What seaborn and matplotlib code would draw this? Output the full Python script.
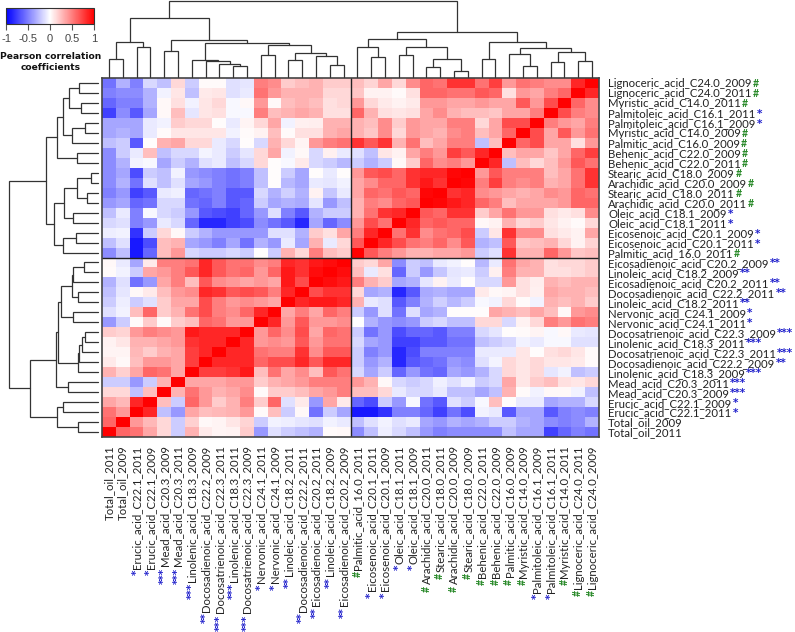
import numpy as np
import matplotlib
matplotlib.use("Agg")
import matplotlib.pyplot as plt
import seaborn as sns

row_labels = ["Lignoceric_acid_C24.0_2009", "Lignoceric_acid_C24.0_2011", "Myristic_acid_C14.0_2011",
              "Palmitoleic_acid_C16.1_2011", "Palmitoleic_acid_C16.1_2009", "Myristic_acid_C14.0_2009",
              "Palmitic_acid_C16.0_2009", "Behenic_acid_C22.0_2009", "Behenic_acid_C22.0_2011",
              "Stearic_acid_C18.0_2009", "Arachidic_acid_C20.0_2009", "Stearic_acid_C18.0_2011",
              "Arachidic_acid_C20.0_2011", "Oleic_acid_C18.1_2009", "Oleic_acid_C18.1_2011",
              "Eicosenoic_acid_C20.1_2009", "Eicosenoic_acid_C20.1_2011", "Palmitic_acid_16.0_2011",
              "Eicosadienoic_acid_C20.2_2009", "Linoleic_acid_C18.2_2009", "Eicosadienoic_acid_C20.2_2011",
              "Docosadienoic_acid_C22.2_2011", "Linoleic_acid_C18.2_2011", "Nervonic_acid_C24.1_2009",
              "Nervonic_acid_C24.1_2011", "Docosatrienoic_acid_C22.3_2009", "Linolenic_acid_C18.3_2011",
              "Docosatrienoic_acid_C22.3_2011", "Docosadienoic_acid_C22.2_2009", "Linolenic_acid_C18.3_2009",
              "Mead_acid_C20.3_2011", "Mead_acid_C20.3_2009", "Erucic_acid_C22.1_2009",
              "Erucic_acid_C22.1_2011", "Total_oil_2009", "Total_oil_2011"]
row_marks = ["#", "#", "#", "*", "*", "#", "#", "#", "#", "#", "#", "#", "#", "*", "*", "*", "*", "#",
             "**", "**", "**", "**", "**", "*", "*", "***", "***", "***", "**", "***", "***", "***", "*", "*", "", ""]

# Upper-left triangle of the symmetric matrix, as drawn: row i holds columns 0 .. 35-i
row_00 = [-.55,-.3,-.5,-.15,-.25,.15,-.2,.02,.02,-.12,-.1,.5,.45,.2,.25,.3,.2,.2,.25,.17,.35,.15,.45,.6,.55,.8,.8,.55,.75,.4,.55,.5,.45,.45,.85,1]
row_01 = [-.5,-.45,-.45,-.3,-.05,.1,-.25,.08,.1,-.12,-.08,.55,.4,.3,.3,.3,.15,.15,.22,.05,.05,.02,.12,.6,.6,.55,.55,.65,.6,.12,.4,.35,.5,.6,1]
row_02 = [-.6,-.5,-.5,-.3,.03,.12,-.05,.1,.15,-.03,.03,.4,.03,.25,.3,.25,.12,.15,.4,.15,.08,.05,.08,.4,.4,.35,.35,.4,.35,.35,.65,.4,.7,1]
row_03 = [-.75,-.45,-.65,-.35,.03,.25,-.1,.1,.12,-.03,-.03,.5,.25,.3,.35,.3,.12,.12,.6,.3,.12,.1,.12,.35,.45,.3,.25,.25,.22,.35,.35,.5,1]
row_04 = [-.35,-.35,-.35,-.08,-.05,.2,.15,.15,.01,-.08,.04,.15,.35,-.05,.06,.07,.3,.3,.3,.25,.45,.2,.4,.35,.35,.5,.5,.15,.35,.7,.7,1]
row_05 = [-.35,-.3,-.35,-.08,.02,.1,.1,.1,.1,-.05,.02,.05,.25,.02,.12,.12,.3,.35,.3,.22,.45,.15,.4,.35,.3,.45,.5,.25,.35,.6,1]
row_06 = [-.25,-.2,-.65,.01,.3,.35,.15,.15,-.08,-.15,.01,-.15,.3,.15,.04,.4,.5,.55,.8,.65,.8,.3,.55,.25,.35,.5,.5,-.25,.25,1]
row_07 = [-.45,-.2,-.08,.25,-.25,-.15,-.15,-.04,-.08,-.2,-.1,.15,.35,-.05,.03,-.15,.06,-.08,-.12,-.25,.1,.05,.35,.5,.4,.75,.65,.85,1]
row_08 = [-.45,-.3,-.05,-.03,-.35,-.2,-.3,-.12,-.08,-.25,-.15,.15,.01,-.03,.08,-.15,-.2,-.28,-.2,-.3,-.2,.03,.2,.6,.45,.5,.4,1]
row_09 = [-.45,-.35,-.7,-.2,-.25,-.05,-.4,-.45,-.5,-.55,-.5,-.25,.01,-.2,-.35,.01,-.08,.01,.4,.65,.7,.6,.8,.85,.85,.97,1]
row_10 = [-.45,-.3,-.55,-.12,-.25,-.12,-.35,-.4,-.5,-.55,-.5,-.25,.01,-.28,-.35,-.08,-.1,-.05,.35,.45,.6,.6,.8,.9,.8,1]
row_11 = [-.5,-.4,-.75,-.65,-.08,-.06,-.6,-.55,-.5,-.65,-.65,-.15,-.3,-.18,-.3,.05,-.22,-.08,.35,.6,.55,.65,.6,.97,1]
row_12 = [-.4,-.35,-.6,-.55,-.15,-.15,-.55,-.6,-.5,-.65,-.6,-.2,-.35,-.3,-.33,-.1,-.4,-.25,.3,.5,.45,.6,.65,1]
row_13 = [-.25,-.08,-.5,-.03,-.15,-.2,-.4,-.65,-.7,-.75,-.6,-.4,-.12,-.5,-.65,-.3,-.2,-.2,.3,.55,.8,.85,1]
row_14 = [-.15,-.12,-.5,-.4,-.08,-.15,-.6,-.85,-.85,-.75,-.7,-.45,-.55,-.65,-.85,-.35,-.6,-.45,.4,.7,.55,1]
row_15 = [-.07,-.05,-.8,-.2,.15,.03,-.2,-.3,-.4,-.4,-.4,-.4,-.12,-.12,-.3,.2,.12,.35,.5,.85,1]
row_16 = [-.25,-.12,-.9,-.7,.25,.3,-.35,-.4,-.5,-.35,-.55,-.3,-.4,-.08,-.35,.3,-.08,.15,.65,1]
row_17 = [-.45,-.25,-.9,-.6,.25,.4,-.15,-.2,-.2,-.15,-.2,.0,-.2,.3,.15,.5,.25,.2,1]
row_18 = [.03,-.08,-.35,.08,.5,.5,.55,.85,.65,.55,.55,.45,.5,.85,.8,.9,.95,1]
row_19 = [.02,-.05,-.2,.35,.4,.5,.65,.85,.65,.55,.6,.4,.6,.9,.8,.95,1]
row_20 = [-.3,-.12,-.55,-.4,.35,.5,.25,.65,.45,.4,.35,.4,.35,.9,.7,1]
row_21 = [-.25,-.1,.03,.08,.25,.4,.45,.85,.8,.65,.7,.65,.5,.85,1]
row_22 = [-.2,-.07,-.2,-.12,.2,.35,.35,.7,.5,.4,.45,.4,.35,1]
row_23 = [-.12,-.05,.25,.6,.2,.3,.55,.7,.5,.45,.6,.85,1]
row_24 = [-.4,-.2,.02,.2,.02,.2,.25,.6,.55,.4,.4,1]
row_25 = [.2,.17,.4,.5,.45,.4,.9,.85,.85,.85,1]
row_26 = [.05,.1,.3,.3,.35,.4,.8,.85,.85,1]
row_27 = [.04,.04,.28,.2,.3,.35,.75,.85,1]
row_28 = [.08,.03,.25,.4,.4,.35,.75,1]
row_29 = [.3,.18,.35,.6,.55,.35,1]
row_30 = [-.2,-.2,-.4,-.2,.3,1]
row_31 = [.15,.15,-.25,.25,1]
row_32 = [.35,.28,.85,1]
row_33 = [.55,.4,1]
row_34 = [.6,1]
row_35 = [1]
corr_rows = [row_00, row_01, row_02, row_03, row_04, row_05, row_06, row_07, row_08, row_09, row_10, row_11,
             row_12, row_13, row_14, row_15, row_16, row_17, row_18, row_19, row_20, row_21, row_22, row_23,
             row_24, row_25, row_26, row_27, row_28, row_29, row_30, row_31, row_32, row_33, row_34, row_35]

# Dendrogram merges: (height, left, right); integers are leaf positions
top_tree = (76,
    (59, (35, (18, 0, 1), (30, 2, 3)),
         (37, (26, 4, 5),
              (34, (17, 6, (16, 7, (13, 8, (11, 9, 10)))),
                   (32, (22, 11, 12), (24, (17, 13, 14), (21, 15, (12, 16, 17))))))),
    (45, (38, (30, 18, (20, 19, 20)),
              (30, (22, 21, 22), (18, (10, 23, 24), (6, 25, 26)))),
         (35, (18, 27, 28),
              (29, (23, 29, (11, 30, 31)), (25, (15, 32, 33), (16, 34, 35))))))
left_tree = (89,
    (52, (41, (35, (29, (19, 0, 1), (17, 2, 3)), (26, (13, 4, 5), 6)), (21, 7, 8)),
         (44, (34, (21, (7, 9, 10), (11, 11, 12)), (25, 13, 14)), (35, (22, 15, 16), 17))),
    (68, (42, (40, (37, (26, (25, (14, 18, 19), 20), (20, 21, 22)), (25, 23, 24)),
                   (20, (19, (16, (13, 25, 26), 27), 28), 29)),
              (30, 30, 31)),
         (41, (35, 32, 33), (20, 34, 35))))

W, H = 795, 632
HX0, HX1, HY0, HY1 = 102, 599, 78, 437


def px_axes(fig, x0, y0, x1, y1):
    return fig.add_axes([x0 / W, 1 - y1 / H, (x1 - x0) / W, (y1 - y0) / H])


n = len(corr_rows)
matrix = np.zeros((n, n))
for r, vals in enumerate(corr_rows):
    for c, v in enumerate(vals):
        matrix[r, c] = v
        matrix[n - 1 - c, n - 1 - r] = v

sns.set_theme(style="white")
plt.rcParams["font.family"] = ["Lato", "DejaVu Sans"]

fig = plt.figure(figsize=(W / 100, H / 100), dpi=100)
ax = px_axes(fig, HX0, HY0, HX1, HY1)
cax = px_axes(fig, 6, 8, 94, 24)

sns.heatmap(matrix, ax=ax, cmap="bwr", vmin=-1, vmax=1, cbar_ax=cax,
            cbar_kws={"orientation": "horizontal", "ticks": [-1, -.5, 0, .5, 1]},
            xticklabels=row_labels[::-1], yticklabels=row_labels)

for s in ax.spines.values():
    s.set_visible(True)
    s.set_color("#444444")
    s.set_linewidth(1.2)
ax.axvline(n / 2, color="#222222", lw=1)
ax.axhline(n / 2, color="#222222", lw=1)

LABEL_SIZE = 8.2
ax.yaxis.tick_right()
ax.tick_params(axis="y", length=0, pad=6.5, labelsize=LABEL_SIZE, labelrotation=0, labelcolor="#222222")
ax.tick_params(axis="x", length=0, pad=6, labelsize=LABEL_SIZE, labelrotation=90, labelcolor="#222222")
fig.canvas.draw()

mark_colors = {"#": "#2a8a2a", "*": "#2222cc"}
mark_fonts = {"#": "Lato", "*": "DejaVu Sans"}
for lab, mark in zip(ax.get_yticklabels(), row_marks):
    if mark:
        ax.annotate(mark, xy=(1, 0), xycoords=lab, xytext=(0.8, 1.8), textcoords="offset points",
                    ha="left", va="baseline", fontsize=7.6, fontweight="bold",
                    family=mark_fonts[mark[0]], color=mark_colors[mark[0]], annotation_clip=False)
for lab, mark in zip(ax.get_xticklabels(), row_marks[::-1]):
    if mark:
        ax.annotate(mark, xy=(1, 0), xycoords=lab, xytext=(-1.8, -0.8), textcoords="offset points",
                    ha="right", va="baseline", rotation=90, rotation_mode="anchor", fontsize=7.6,
                    fontweight="bold", family=mark_fonts[mark[0]], color=mark_colors[mark[0]],
                    annotation_clip=False)

cbar = ax.collections[0].colorbar
cbar.outline.set_visible(True)
cbar.outline.set_edgecolor("#333333")
cbar.outline.set_linewidth(0.8)
cbar.ax.tick_params(axis="x", length=4, width=0.8, color="#555555", pad=3.5, labelsize=8,
                    labelcolor="#444444", bottom=True)
cbar.ax.set_xticklabels(["-1", "-0.5", "0", "0.5", "1"], family="Liberation Sans")
fig.text(51 / W, 1 - 62 / H, "Pearson correlation\ncoefficients", ha="center", va="center",
         family="DejaVu Sans", fontweight="bold", fontsize=6.6, color="#111111", linespacing=1.35)


def draw_tree(node, ax, horizontal):
    """Draw a merge tree recursively; returns (leaf-axis position, height)."""
    if isinstance(node, int):
        return node + 0.5, 0
    h, a, b = node
    pa, ha = draw_tree(a, ax, horizontal)
    pb, hb = draw_tree(b, ax, horizontal)
    xs, ys = [pa, pa, pb, pb], [ha, h, h, hb]
    if horizontal:
        ax.plot(xs, ys, color="#333333", lw=0.9, solid_joinstyle="miter", clip_on=False)
    else:
        ax.plot(ys, xs, color="#333333", lw=0.9, solid_joinstyle="miter", clip_on=False)
    return (pa + pb) / 2, h


tax = px_axes(fig, HX0, 0, HX1, 77)
draw_tree(top_tree, tax, True)
tax.set_xlim(0, n)
tax.set_ylim(0, 77)
tax.axis("off")

lax = px_axes(fig, 0, HY0, 98, HY1)
draw_tree(left_tree, lax, False)
lax.set_xlim(98, 0)
lax.set_ylim(n, 0)
lax.axis("off")

fig.savefig("out.png", dpi=100)
